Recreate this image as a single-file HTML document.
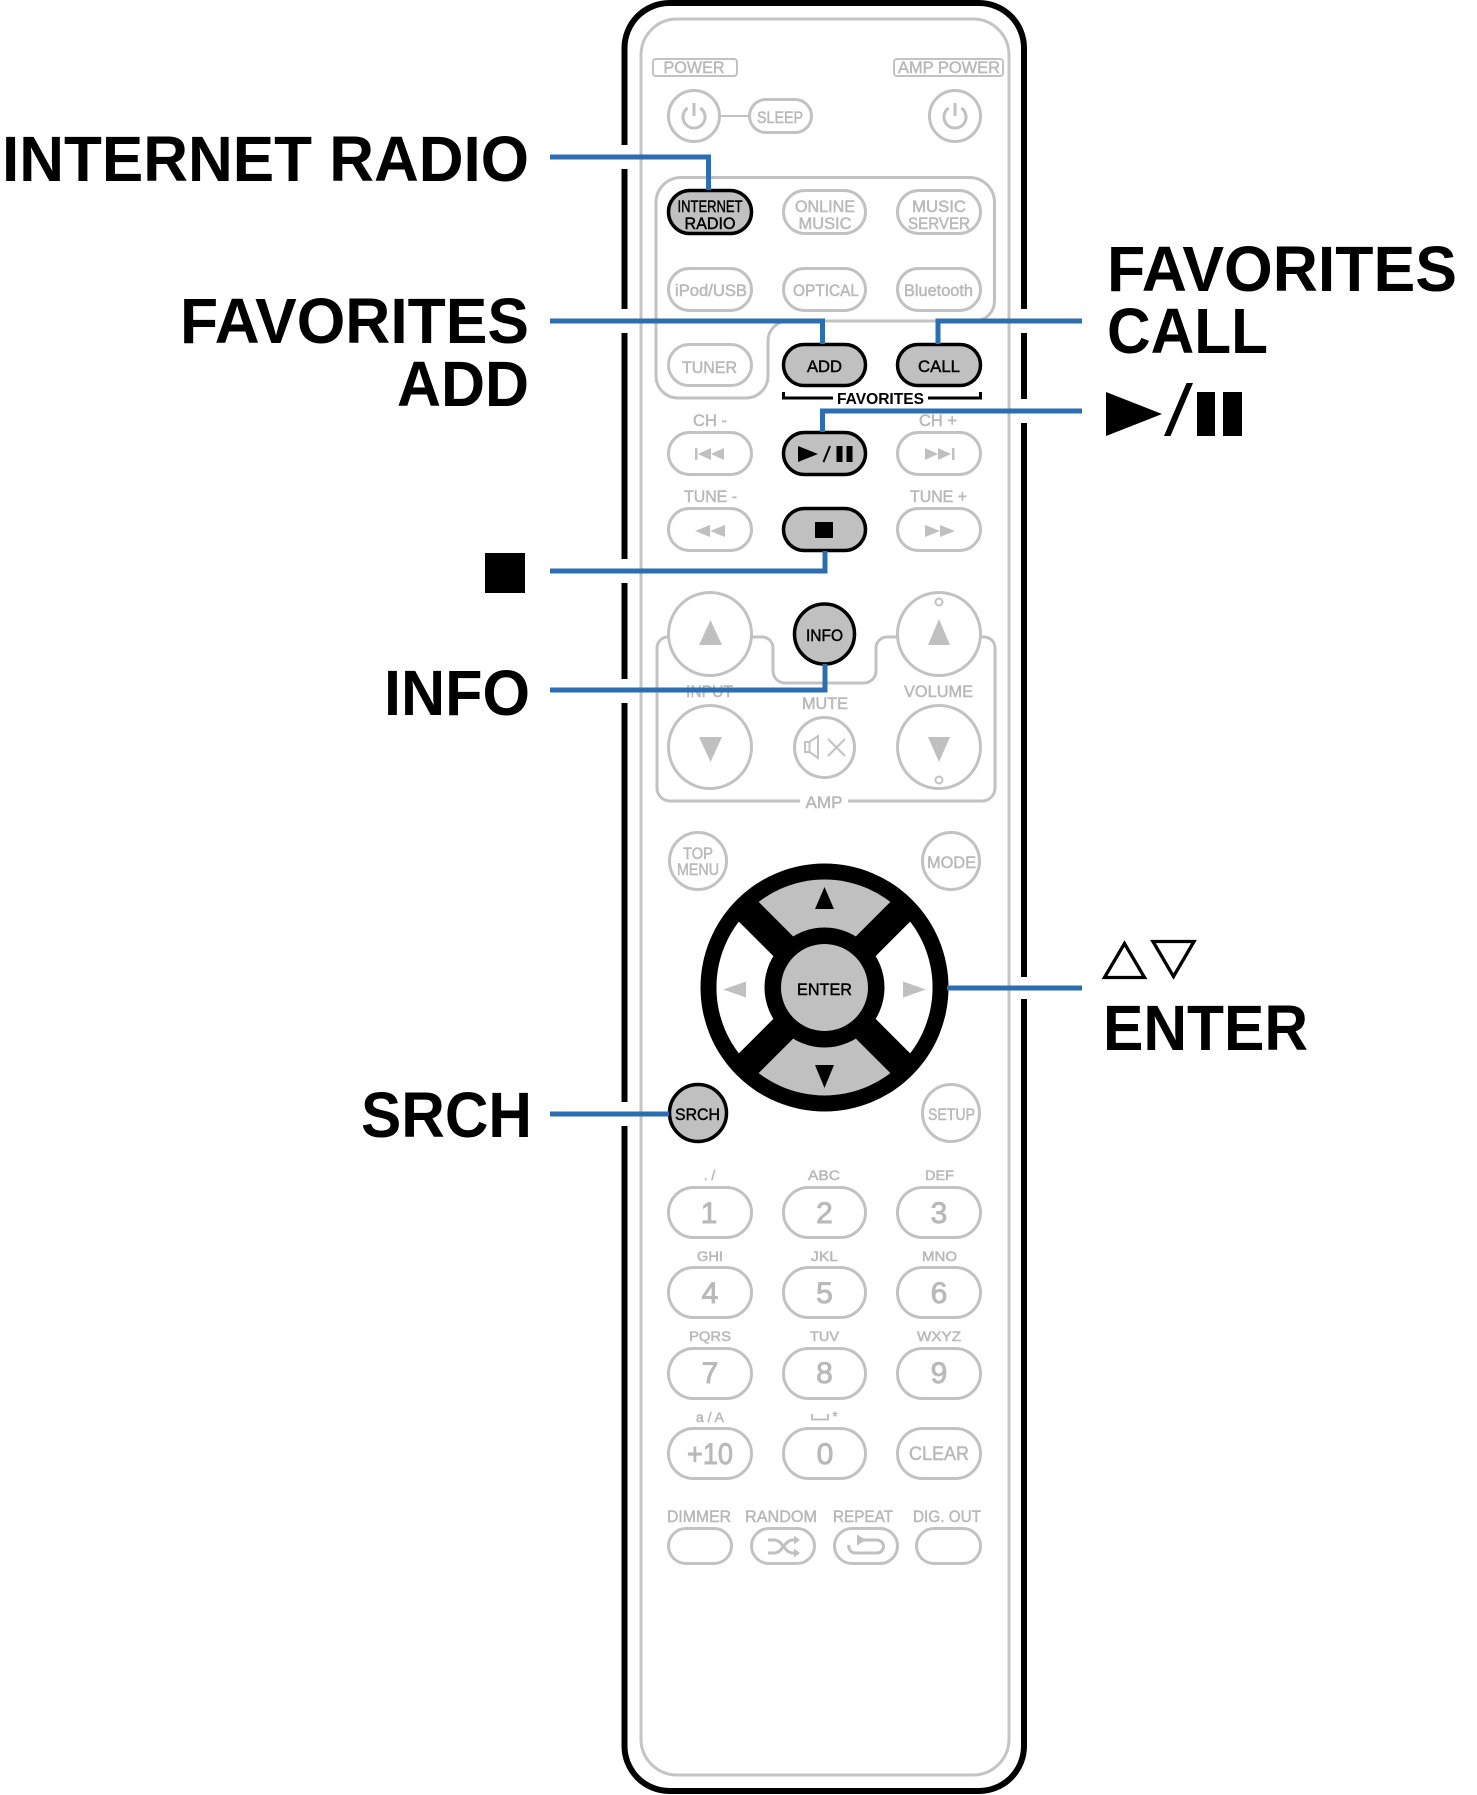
<!DOCTYPE html>
<html><head><meta charset="utf-8"><style>
html,body{margin:0;padding:0;background:#fff;}
svg{display:block;}
text{font-family:"Liberation Sans",Arial,sans-serif;}
.g{fill:#b9b9b9;font-size:16.5px;stroke:#b9b9b9;stroke-width:0.5;}
.k{fill:#000;font-size:16.5px;stroke:#000;stroke-width:0.45;}
.big{fill:#000;font-size:64px;font-weight:bold;}
.gp{fill:#fff;stroke:#c2c2c2;stroke-width:3;}
.hp{fill:#c0c0c0;stroke:#000;stroke-width:3.5;}
.bl{fill:none;stroke:#2d6eb2;stroke-width:5;}
.gt{fill:#b9b9b9;stroke:#b9b9b9;stroke-width:0.5;}
</style></head><body>
<svg width="1477" height="1795" viewBox="0 0 1477 1795" xmlns="http://www.w3.org/2000/svg">
<!-- remote body -->
<rect x="624.5" y="3" width="399.5" height="1788" rx="45" fill="#fff" stroke="#000" stroke-width="6"/>
<rect x="641" y="19" width="368" height="1756" rx="36" fill="none" stroke="#c4c4c4" stroke-width="3"/>

<!-- power -->
<rect x="653" y="59" width="84" height="17" rx="3" fill="none" stroke="#c2c2c2" stroke-width="2"/>
<text class="g" x="694" y="73" text-anchor="middle" textLength="61" lengthAdjust="spacingAndGlyphs">POWER</text>
<rect x="894" y="59" width="109" height="17" rx="3" fill="none" stroke="#c2c2c2" stroke-width="2"/>
<text class="g" x="949" y="73" text-anchor="middle" textLength="102" lengthAdjust="spacingAndGlyphs">AMP POWER</text>
<line x1="721" y1="116" x2="749" y2="116" stroke="#c2c2c2" stroke-width="2"/>
<circle class="gp" cx="694" cy="116" r="25.5"/>
<path d="M687.7,108 A11 11 0 1 0 700.3,108 M694,103 V116" fill="none" stroke="#c2c2c2" stroke-width="3"/>
<rect class="gp" x="749.5" y="99.5" width="62" height="33" rx="16.5"/>
<text class="g" x="780" y="123" text-anchor="middle" textLength="46" lengthAdjust="spacingAndGlyphs">SLEEP</text>
<circle class="gp" cx="955" cy="116" r="25.5"/>
<path d="M948.7,108 A11 11 0 1 0 961.3,108 M955,103 V116" fill="none" stroke="#c2c2c2" stroke-width="3"/>

<!-- input group -->
<path d="M681,177.5 H969.5 A25 25 0 0 1 994.5,202.5 V301 A20 20 0 0 1 974.5,321 H788 A20 20 0 0 0 768,341 V376 A22 22 0 0 1 746,398 H678 A22 22 0 0 1 656,376 V202.5 A25 25 0 0 1 681,177.5 Z" fill="none" stroke="#c2c2c2" stroke-width="3"/>

<!-- row A -->
<rect class="hp" x="668.5" y="190.5" width="83" height="43" rx="21.5"/>
<text class="k" x="710" y="212" text-anchor="middle" textLength="65" lengthAdjust="spacingAndGlyphs">INTERNET</text>
<text class="k" x="710" y="229" text-anchor="middle" textLength="51" lengthAdjust="spacingAndGlyphs">RADIO</text>
<rect class="gp" x="783.5" y="190.5" width="82" height="43" rx="21.5"/>
<text class="g" x="825" y="212" text-anchor="middle" textLength="60" lengthAdjust="spacingAndGlyphs">ONLINE</text>
<text class="g" x="825" y="229" text-anchor="middle" textLength="53" lengthAdjust="spacingAndGlyphs">MUSIC</text>
<rect class="gp" x="897.5" y="190.5" width="83" height="43" rx="21.5"/>
<text class="g" x="939" y="212" text-anchor="middle" textLength="54" lengthAdjust="spacingAndGlyphs">MUSIC</text>
<text class="g" x="939" y="229" text-anchor="middle" textLength="62" lengthAdjust="spacingAndGlyphs">SERVER</text>

<!-- row B -->
<rect class="gp" x="668.5" y="268.5" width="83" height="42" rx="21"/>
<text class="g" x="711" y="296" text-anchor="middle" textLength="72" lengthAdjust="spacingAndGlyphs">iPod/USB</text>
<rect class="gp" x="783.5" y="268.5" width="82" height="42" rx="21"/>
<text class="g" x="826" y="296" text-anchor="middle" textLength="66" lengthAdjust="spacingAndGlyphs">OPTICAL</text>
<rect class="gp" x="897.5" y="268.5" width="83" height="42" rx="21"/>
<text class="g" x="938.5" y="296" text-anchor="middle" textLength="69" lengthAdjust="spacingAndGlyphs">Bluetooth</text>

<!-- row C -->
<rect class="gp" x="668.5" y="344.5" width="83" height="41" rx="20.5"/>
<text class="g" x="709.5" y="373" text-anchor="middle" textLength="55" lengthAdjust="spacingAndGlyphs">TUNER</text>
<rect class="hp" x="783.5" y="344.5" width="82" height="41" rx="20.5"/>
<text class="k" x="824.5" y="372" text-anchor="middle" textLength="35" lengthAdjust="spacingAndGlyphs">ADD</text>
<rect class="hp" x="897.5" y="344.5" width="83" height="41" rx="20.5"/>
<text class="k" x="939" y="372" text-anchor="middle" textLength="42" lengthAdjust="spacingAndGlyphs">CALL</text>
<path d="M783.5,392 V398 H833 M928,398 H980.5 V392" fill="none" stroke="#000" stroke-width="3"/>
<text x="880.5" y="404" text-anchor="middle" font-size="15.5" font-weight="bold" fill="#000" textLength="87" lengthAdjust="spacingAndGlyphs">FAVORITES</text>

<!-- row D -->
<text class="g" x="710" y="426" text-anchor="middle" textLength="34" lengthAdjust="spacingAndGlyphs">CH -</text>
<text class="g" x="938" y="426" text-anchor="middle" textLength="38" lengthAdjust="spacingAndGlyphs">CH +</text>
<rect class="gp" x="668.5" y="432.5" width="83" height="42" rx="21"/>
<rect x="695" y="448" width="2.5" height="12" fill="#c0c0c0"/>
<polygon points="698,454 711,448 711,460" fill="#c0c0c0"/>
<polygon points="711,454 724,448 724,460" fill="#c0c0c0"/>
<rect class="hp" x="783.5" y="432.5" width="82" height="42" rx="21"/>
<polygon points="798,446 818,454 798,462" fill="#000"/>
<line x1="823.5" y1="462" x2="830" y2="446" stroke="#000" stroke-width="2"/>
<rect x="836.5" y="446" width="6" height="16" fill="#000"/>
<rect x="846.5" y="446" width="6" height="16" fill="#000"/>
<rect class="gp" x="897.5" y="432.5" width="83" height="42" rx="21"/>
<polygon points="925,448 938,454 925,460" fill="#c0c0c0"/>
<polygon points="938,448 951,454 938,460" fill="#c0c0c0"/>
<rect x="952" y="448" width="2.5" height="12" fill="#c0c0c0"/>

<!-- row E -->
<text class="g" x="710.5" y="502" text-anchor="middle" textLength="53" lengthAdjust="spacingAndGlyphs">TUNE -</text>
<text class="g" x="938.5" y="502" text-anchor="middle" textLength="57" lengthAdjust="spacingAndGlyphs">TUNE +</text>
<rect class="gp" x="668.5" y="508.5" width="83" height="42" rx="21"/>
<polygon points="695,531 710,525 710,537" fill="#c0c0c0"/>
<polygon points="710,531 725,525 725,537" fill="#c0c0c0"/>
<rect class="hp" x="783.5" y="508.5" width="82" height="42" rx="21"/>
<rect x="815" y="522" width="18" height="16" fill="#000"/>
<rect class="gp" x="897.5" y="508.5" width="83" height="42" rx="21"/>
<polygon points="925,525 940,531 925,537" fill="#c0c0c0"/>
<polygon points="940,525 955,531 940,537" fill="#c0c0c0"/>

<!-- AMP group -->
<path d="M690,637 H668 A11 11 0 0 0 657,648 V788 A13 13 0 0 0 670,801 H800 M848,801 H982 A13 13 0 0 0 995,788 V648 A11 11 0 0 0 984,637 H960 M740,637 H762 A11 11 0 0 1 773,648 V671 A12 12 0 0 0 785,683 H864 A12 12 0 0 0 876,671 V648 A11 11 0 0 1 887,637 H910" fill="none" stroke="#c2c2c2" stroke-width="3"/>
<text class="g" x="824" y="808" text-anchor="middle" textLength="37" lengthAdjust="spacingAndGlyphs">AMP</text>
<circle class="gp" cx="710" cy="634" r="41.5"/>
<polygon points="710.5,620 699,645 722,645" fill="#c0c0c0"/>
<circle class="gp" cx="939" cy="634" r="41.5"/>
<polygon points="939,619 928,645 950,645" fill="#c0c0c0"/>
<circle cx="939" cy="602" r="3.5" fill="#fff" stroke="#c2c2c2" stroke-width="2"/>
<circle class="hp" cx="824.5" cy="634" r="30"/>
<text class="k" x="824.5" y="641" text-anchor="middle" textLength="37" lengthAdjust="spacingAndGlyphs">INFO</text>
<text class="g" x="709.5" y="697" text-anchor="middle" textLength="47" lengthAdjust="spacingAndGlyphs">INPUT</text>
<text class="g" x="938.5" y="697" text-anchor="middle" textLength="69" lengthAdjust="spacingAndGlyphs">VOLUME</text>
<text class="g" x="825" y="709" text-anchor="middle" textLength="46" lengthAdjust="spacingAndGlyphs">MUTE</text>
<circle class="gp" cx="710" cy="747" r="41.5"/>
<polygon points="699,737 722,737 710.5,762" fill="#c0c0c0"/>
<circle class="gp" cx="939" cy="747" r="41.5"/>
<polygon points="928,737 950,737 939,762" fill="#c0c0c0"/>
<circle cx="939" cy="780" r="3.5" fill="#fff" stroke="#c2c2c2" stroke-width="2"/>
<circle class="gp" cx="824.5" cy="747.5" r="30"/>
<path d="M805,742 H809.5 L818,736 V758 L809.5,752 H805 Z M809.5,742 V752" fill="none" stroke="#c2c2c2" stroke-width="2"/>
<path d="M828,739 L845,756 M845,739 L828,756" stroke="#c2c2c2" stroke-width="2"/>

<!-- top menu / mode -->
<circle class="gp" cx="698" cy="861" r="28.5"/>
<text class="g" x="698" y="859" text-anchor="middle" font-size="15" textLength="30" lengthAdjust="spacingAndGlyphs">TOP</text>
<text class="g" x="698" y="875" text-anchor="middle" font-size="15" textLength="42" lengthAdjust="spacingAndGlyphs">MENU</text>
<circle class="gp" cx="951" cy="861" r="28.5"/>
<text class="g" x="951.5" y="868" text-anchor="middle" textLength="49" lengthAdjust="spacingAndGlyphs">MODE</text>

<!-- d-pad -->
<clipPath id="seg"><circle cx="824.5" cy="987.5" r="108"/></clipPath>
<circle cx="824.5" cy="987.5" r="124" fill="#000"/>
<g clip-path="url(#seg)">
<rect x="700" y="860" width="250" height="260" fill="#c0c0c0"/>
<polygon points="824.5,987.5 624.5,787.5 624.5,1187.5" fill="#fff"/>
<polygon points="824.5,987.5 1024.5,787.5 1024.5,1187.5" fill="#fff"/>
</g>
<line x1="744.5" y1="907.5" x2="904.5" y2="1067.5" stroke="#000" stroke-width="28"/>
<line x1="904.5" y1="907.5" x2="744.5" y2="1067.5" stroke="#000" stroke-width="28"/>
<circle cx="824.5" cy="987.5" r="60" fill="#000"/>
<circle cx="824.5" cy="987.5" r="43.5" fill="#c0c0c0"/>
<polygon points="824.5,887 815,909 834,909" fill="#000"/>
<polygon points="815,1065 834,1065 824.5,1088" fill="#000"/>
<polygon points="723,989.5 746,981.5 746,997.5" fill="#c0c0c0"/>
<polygon points="926,989.5 903,981.5 903,997.5" fill="#c0c0c0"/>
<text class="k" x="824.5" y="995" text-anchor="middle" textLength="55" lengthAdjust="spacingAndGlyphs">ENTER</text>

<!-- srch / setup -->
<circle class="hp" cx="698" cy="1113" r="28.5"/>
<text class="k" x="697.5" y="1120" text-anchor="middle" textLength="45" lengthAdjust="spacingAndGlyphs">SRCH</text>
<circle class="gp" cx="951" cy="1113" r="28.5"/>
<text class="g" x="951.5" y="1120" text-anchor="middle" textLength="47" lengthAdjust="spacingAndGlyphs">SETUP</text>

<!-- number pad -->
<g font-size="13.5" class="gt" text-anchor="middle">
<text x="709.5" y="1180">. /</text>
<text x="824" y="1180" textLength="32" lengthAdjust="spacingAndGlyphs">ABC</text>
<text x="939.5" y="1180" textLength="29" lengthAdjust="spacingAndGlyphs">DEF</text>
<text x="710" y="1261" textLength="26" lengthAdjust="spacingAndGlyphs">GHI</text>
<text x="824.5" y="1261" textLength="27" lengthAdjust="spacingAndGlyphs">JKL</text>
<text x="939.5" y="1261" textLength="35" lengthAdjust="spacingAndGlyphs">MNO</text>
<text x="710" y="1341" textLength="42" lengthAdjust="spacingAndGlyphs">PQRS</text>
<text x="824.5" y="1341" textLength="29" lengthAdjust="spacingAndGlyphs">TUV</text>
<text x="939" y="1341" textLength="44" lengthAdjust="spacingAndGlyphs">WXYZ</text>
<text x="710" y="1422" textLength="28" lengthAdjust="spacingAndGlyphs">a / A</text>
<text x="835" y="1421">*</text>
</g>
<path d="M812,1414 V1419.5 H828 V1414" fill="none" stroke="#b9b9b9" stroke-width="1.8"/>

<rect class="gp" x="668.5" y="1187.5" width="83" height="50" rx="25"/>
<rect class="gp" x="783.5" y="1187.5" width="82" height="50" rx="25"/>
<rect class="gp" x="897.5" y="1187.5" width="83" height="50" rx="25"/>
<rect class="gp" x="668.5" y="1267.5" width="83" height="50" rx="25"/>
<rect class="gp" x="783.5" y="1267.5" width="82" height="50" rx="25"/>
<rect class="gp" x="897.5" y="1267.5" width="83" height="50" rx="25"/>
<rect class="gp" x="668.5" y="1348.5" width="83" height="50" rx="25"/>
<rect class="gp" x="783.5" y="1348.5" width="82" height="50" rx="25"/>
<rect class="gp" x="897.5" y="1348.5" width="83" height="50" rx="25"/>
<rect class="gp" x="668.5" y="1428.5" width="83" height="50" rx="25"/>
<rect class="gp" x="783.5" y="1428.5" width="82" height="50" rx="25"/>
<rect class="gp" x="897.5" y="1428.5" width="83" height="50" rx="25"/>
<g font-size="30" fill="#b9b9b9" stroke="#b9b9b9" stroke-width="0.9" text-anchor="middle">
<text x="709" y="1223">1</text>
<text x="824.5" y="1223">2</text>
<text x="939" y="1223">3</text>
<text x="710" y="1303">4</text>
<text x="824.5" y="1303">5</text>
<text x="939" y="1303">6</text>
<text x="710" y="1383">7</text>
<text x="824.5" y="1383">8</text>
<text x="939" y="1383">9</text>
<text x="710" y="1464" textLength="46" lengthAdjust="spacingAndGlyphs">+10</text>
<text x="825" y="1464">0</text>
</g>
<text x="939" y="1460" font-size="19" class="gt" text-anchor="middle" textLength="60" lengthAdjust="spacingAndGlyphs">CLEAR</text>

<!-- bottom row -->
<text class="g" x="699" y="1522" text-anchor="middle" textLength="64" lengthAdjust="spacingAndGlyphs">DIMMER</text>
<text class="g" x="781" y="1522" text-anchor="middle" textLength="72" lengthAdjust="spacingAndGlyphs">RANDOM</text>
<text class="g" x="863" y="1522" text-anchor="middle" textLength="60" lengthAdjust="spacingAndGlyphs">REPEAT</text>
<text class="g" x="947" y="1522" text-anchor="middle" textLength="68" lengthAdjust="spacingAndGlyphs">DIG. OUT</text>
<rect class="gp" x="668.5" y="1528.5" width="63" height="35" rx="17.5"/>
<rect class="gp" x="751.5" y="1528.5" width="63" height="35" rx="17.5"/>
<rect class="gp" x="834.5" y="1528.5" width="63" height="35" rx="17.5"/>
<rect class="gp" x="916.5" y="1528.5" width="64" height="35" rx="17.5"/>
<path d="M768,1540 H774 C783,1540 784,1553 793,1553 H796 M768,1553 H774 C783,1553 784,1540 793,1540 H796" fill="none" stroke="#c0c0c0" stroke-width="3"/>
<polygon points="794,1535.5 800,1540 794,1544.5" fill="#c0c0c0"/>
<polygon points="794,1548.5 800,1553 794,1557.5" fill="#c0c0c0"/>
<path d="M858,1540 H877 A6.5 6.5 0 0 1 877,1553 H855 A6.5 6.5 0 0 1 849,1545" fill="none" stroke="#c0c0c0" stroke-width="3"/>
<polygon points="857,1534.5 866,1540 857,1545.5" fill="#c0c0c0"/>

<!-- white gaps in border where connectors cross -->
<g fill="#fff">
<rect x="618" y="145" width="14" height="24"/>
<rect x="618" y="309" width="14" height="24"/>
<rect x="618" y="559" width="14" height="24"/>
<rect x="618" y="679" width="14" height="24"/>
<rect x="618" y="1102" width="14" height="24"/>
<rect x="1017" y="309" width="14" height="24"/>
<rect x="1017" y="399" width="14" height="24"/>
<rect x="1017" y="977" width="14" height="22"/>
</g>

<!-- connectors -->
<path class="bl" d="M550,157 H708.5 V190"/>
<path class="bl" d="M550,321 H822.5 V344"/>
<path class="bl" d="M1082,321 H938 V344"/>
<path class="bl" d="M1082,411 H822.5 V432"/>
<path class="bl" d="M550,571 H825 V551"/>
<path class="bl" d="M550,690 H825 V664"/>
<path class="bl" d="M947,988 H1082"/>
<path class="bl" d="M550,1114 H669"/>

<!-- left labels -->
<text class="big" x="2" y="181" textLength="527" lengthAdjust="spacingAndGlyphs">INTERNET RADIO</text>
<text class="big" x="180" y="343" textLength="349" lengthAdjust="spacingAndGlyphs">FAVORITES</text>
<text class="big" x="397" y="406" textLength="132" lengthAdjust="spacingAndGlyphs">ADD</text>
<rect x="485" y="553" width="40" height="40" fill="#000"/>
<text class="big" x="384" y="715" textLength="146" lengthAdjust="spacingAndGlyphs">INFO</text>
<text class="big" x="361" y="1137" textLength="171" lengthAdjust="spacingAndGlyphs">SRCH</text>

<!-- right labels -->
<text class="big" x="1107" y="291" textLength="350" lengthAdjust="spacingAndGlyphs">FAVORITES</text>
<text class="big" x="1107" y="353" textLength="161" lengthAdjust="spacingAndGlyphs">CALL</text>
<polygon points="1106,392 1162,414 1106,436" fill="#000"/>
<polygon points="1164,436 1170.5,436 1193,383 1186.5,383" fill="#000"/>
<rect x="1197" y="392" width="18" height="44" fill="#000"/>
<rect x="1223" y="392" width="19" height="44" fill="#000"/>
<polygon points="1124.5,943.5 1104.5,977.5 1144.5,977.5" fill="none" stroke="#000" stroke-width="3.3"/>
<polygon points="1153,941.5 1194,941.5 1173.5,976.5" fill="none" stroke="#000" stroke-width="3.3"/>
<text class="big" x="1103" y="1050" textLength="205" lengthAdjust="spacingAndGlyphs">ENTER</text>
</svg>
</body></html>
